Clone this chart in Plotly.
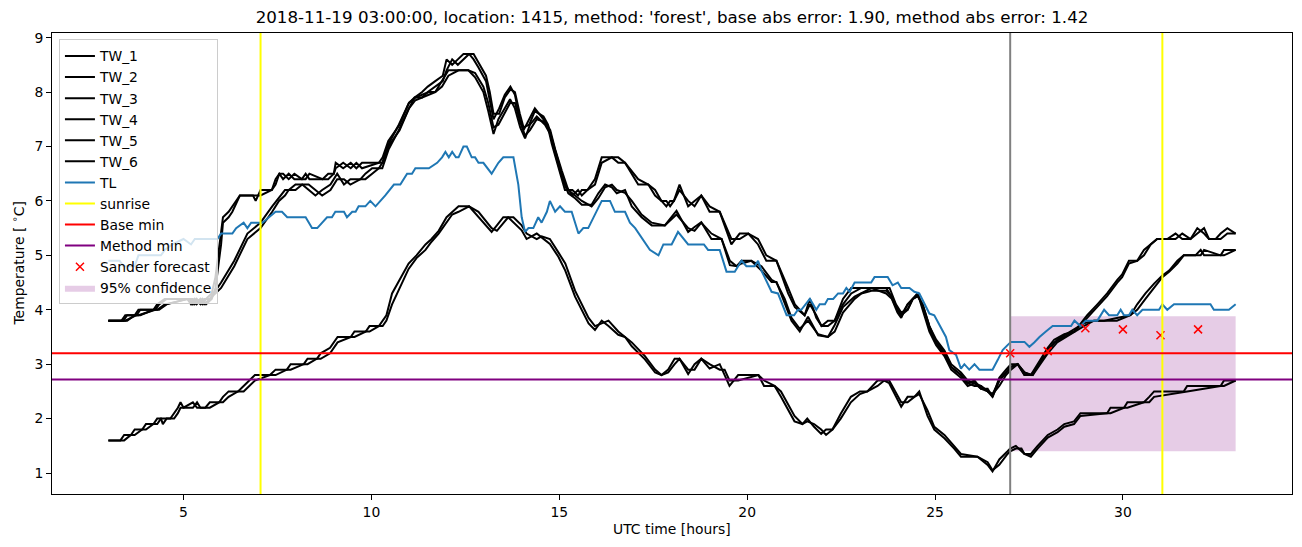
import plotly.graph_objects as go

FONT = "DejaVu Sans"

# ---------------- data ----------------
tA = [3.0,3.35,3.45,3.75,3.85,4.2,4.3,4.5,5.15,5.25,
      5.35,5.5,5.6,5.75,5.85,6.0,6.05,6.2,6.3,6.5,
      6.85,6.92,7.05,7.35,7.45,7.55,7.65,7.8,7.95,8.15,
      8.25,8.35,8.7,8.85,9.0,9.05,9.25,9.45,9.6,9.75,
      10.2,10.3,10.45,10.75,11.0,11.15,11.35,11.5,11.7,11.9,
      12.0,12.15,12.3,12.45,12.6,12.72,12.85,13.05,13.15,13.25,
      13.4,13.55,13.7,13.82,13.95,14.05,14.2,14.35,14.58,14.7,
      14.8,15.0,15.15,15.35,15.5,15.6,15.75,15.95,16.13,16.4,
      16.57,16.75,17.1,17.37,17.55,17.72,17.85,17.95,18.05,18.2,
      18.43,18.6,18.78,19.0,19.27,19.58,19.8,20.03,20.29,20.51,
      20.78,21.09,21.27,21.53,21.67,21.84,21.98,22.15,22.33,22.55,
      22.77,23.04,23.3,23.7,23.79,23.96,24.1,24.27,24.41,24.54,
      24.67,24.85,25.03,25.25,25.43,25.69,25.87,26.05,26.22,26.4,
      26.53,26.71,26.89,27.02,27.2,27.38,27.55,27.73,28.0,28.17,
      28.44,28.71,29.05,29.32,29.58,29.85,29.98,30.16,30.38,30.56,
      30.74,30.91,31.18,31.4,31.58,31.8,31.98,32.16,32.29,32.47,
      32.6,32.78,33.0]
TW_1 = [3.8,3.8,3.9,3.9,4.0,4.0,4.1,4.2,4.2,4.1,
        4.2,4.1,4.2,4.3,4.6,5.5,5.7,5.8,5.9,6.1,
        6.1,6.0,6.2,6.2,6.4,6.5,6.4,6.5,6.4,6.4,
        6.5,6.4,6.4,6.5,6.5,6.7,6.6,6.7,6.6,6.7,
        6.7,6.8,7.1,7.4,7.8,7.9,8.0,8.1,8.2,8.3,
        8.6,8.5,8.6,8.7,8.7,8.6,8.45,8.2,7.85,7.5,
        7.7,7.95,8.1,7.95,7.5,7.3,7.5,7.7,7.5,7.35,
        7.05,6.55,6.2,6.2,6.1,6.2,6.2,6.4,6.8,6.8,
        6.7,6.7,6.3,6.3,6.1,6.0,5.9,6.0,6.0,6.3,
        5.9,6.0,6.1,5.8,5.8,5.2,5.4,5.4,5.2,4.9,
        4.9,4.3,4.05,3.9,4.2,3.85,3.7,3.8,3.8,4.2,
        4.4,4.4,4.4,4.4,4.3,4.05,3.9,4.1,4.2,4.3,
        4.05,3.65,3.4,3.2,2.95,2.8,2.65,2.7,2.55,2.55,
        2.4,2.75,2.9,3.0,3.0,2.8,2.8,3.0,3.3,3.45,
        3.55,3.6,3.9,4.1,4.3,4.55,4.65,4.9,4.9,5.1,
        5.2,5.3,5.3,5.4,5.3,5.3,5.5,5.4,5.3,5.3,
        5.4,5.5,5.4]
TW_2 = [3.8,3.8,3.8,3.9,3.9,4.0,4.0,4.1,4.2,4.2,
        4.1,4.2,4.1,4.2,4.4,5.2,5.6,5.7,5.8,6.1,
        6.1,6.1,6.1,6.2,6.3,6.5,6.5,6.4,6.5,6.4,
        6.4,6.5,6.4,6.4,6.5,6.6,6.7,6.6,6.7,6.6,
        6.7,6.7,7.0,7.3,7.7,7.9,7.9,8.0,8.1,8.2,
        8.4,8.6,8.5,8.6,8.7,8.7,8.55,8.3,8.0,7.6,
        7.6,7.9,8.05,8.0,7.6,7.35,7.4,7.65,7.55,7.4,
        7.15,6.65,6.3,6.1,6.2,6.1,6.2,6.3,6.7,6.8,
        6.8,6.7,6.4,6.3,6.2,6.0,6.0,5.9,6.0,6.2,
        6.0,5.9,6.1,5.9,5.8,5.3,5.3,5.4,5.3,5.0,
        4.9,4.4,4.1,3.9,4.1,3.9,3.7,3.7,3.8,4.1,
        4.3,4.4,4.4,4.4,4.4,4.1,3.95,4.0,4.2,4.25,
        4.1,3.7,3.45,3.25,3.0,2.85,2.7,2.65,2.6,2.5,
        2.45,2.7,2.85,2.95,3.0,2.85,2.8,2.95,3.25,3.4,
        3.5,3.6,3.85,4.05,4.25,4.5,4.6,4.85,4.9,5.0,
        5.2,5.3,5.3,5.3,5.4,5.3,5.4,5.5,5.3,5.3,
        5.3,5.4,5.4]

tB = [3.0,3.4,3.5,3.7,3.8,4.25,4.35,4.55,5.1,5.2,
      5.3,5.45,5.55,5.7,6.0,6.35,6.7,7.05,7.36,7.54,
      7.7,7.8,7.98,8.16,8.33,8.51,8.69,8.91,9.09,9.27,
      9.44,9.71,9.84,10.02,10.2,10.29,10.46,10.73,11.0,11.17,
      11.35,11.53,11.7,11.88,12.05,12.32,12.58,12.76,12.98,13.11,
      13.25,13.38,13.56,13.69,13.82,13.96,14.09,14.22,14.4,14.62,
      14.76,14.89,15.07,15.24,15.42,15.6,15.86,16.04,16.22,16.4,
      16.53,16.75,16.93,17.19,17.46,17.81,18.12,18.43,18.6,18.78,
      19.05,19.32,19.54,19.72,19.85,20.11,20.38,20.65,20.78,21.0,
      21.18,21.4,21.62,21.89,22.15,22.33,22.55,22.86,23.04,23.31,
      23.7,23.85,24.0,24.1,24.27,24.41,24.54,24.67,24.85,25.03,
      25.25,25.43,25.69,25.87,26.05,26.22,26.4,26.53,26.71,26.89,
      27.02,27.2,27.38,27.6,27.75,28.0,28.25,28.6,28.96,29.23,
      29.5,29.84,30.2,30.38,30.6,30.83,31.05,31.23,31.45,31.62,
      31.93,32.07,32.16,32.6,32.69,33.0]
TW_3 = [3.8,3.8,3.9,3.9,4.0,4.0,4.1,4.2,4.2,4.1,
        4.2,4.1,4.2,4.2,4.5,4.9,5.4,5.6,5.9,6.05,
        6.2,6.2,6.3,6.3,6.2,6.1,6.2,6.3,6.5,6.3,
        6.4,6.4,6.5,6.6,6.6,6.7,7.05,7.4,7.8,7.9,
        7.95,8.0,8.0,8.2,8.4,8.4,8.4,8.27,8.0,7.65,
        7.23,7.5,7.7,7.87,7.7,7.35,7.15,7.4,7.55,7.4,
        7.23,6.87,6.44,6.14,6.05,5.93,5.93,6.14,6.3,6.25,
        6.14,6.2,5.9,5.7,5.55,5.55,5.82,5.43,5.52,5.61,
        5.3,5.3,4.82,4.8,4.9,4.9,4.72,4.51,4.51,4.1,
        3.8,3.6,3.87,3.53,3.5,3.72,4.05,4.24,4.3,4.4,
        4.3,4.2,3.95,3.85,4.1,4.2,4.3,4.0,3.6,3.35,
        3.15,2.9,2.75,2.6,2.65,2.55,2.5,2.4,2.7,2.85,
        2.95,3.0,2.8,2.8,3.0,3.25,3.45,3.6,3.75,3.8,
        3.8,3.85,3.9,4.1,4.3,4.48,4.63,4.72,4.9,5.0,
        5.0,5.1,5.0,5.0,5.1,5.1]
TW_4 = [3.8,3.8,3.8,3.9,3.9,4.0,4.0,4.1,4.2,4.2,
        4.1,4.2,4.1,4.2,4.4,4.8,5.3,5.5,5.8,6.0,
        6.1,6.2,6.2,6.3,6.3,6.2,6.1,6.2,6.4,6.4,
        6.3,6.4,6.4,6.5,6.6,6.6,6.95,7.3,7.7,7.85,
        7.9,7.95,8.0,8.1,8.3,8.4,8.4,8.35,8.1,7.8,
        7.35,7.4,7.65,7.8,7.8,7.45,7.2,7.3,7.5,7.45,
        7.3,6.95,6.55,6.2,6.1,6.0,5.9,6.05,6.25,6.3,
        6.2,6.15,6.0,5.75,5.6,5.55,5.75,5.5,5.45,5.6,
        5.4,5.3,4.9,4.8,4.85,4.9,4.8,4.55,4.5,4.2,
        3.85,3.65,3.8,3.55,3.5,3.6,3.95,4.2,4.3,4.35,
        4.35,4.25,4.0,3.9,4.0,4.2,4.25,4.1,3.7,3.4,
        3.2,2.95,2.8,2.65,2.6,2.6,2.5,2.45,2.6,2.8,
        2.9,3.0,2.85,2.8,2.95,3.2,3.4,3.55,3.7,3.8,
        3.8,3.8,3.9,4.0,4.2,4.4,4.6,4.7,4.85,5.0,
        5.0,5.0,5.1,5.0,5.0,5.1]

tC = [3.0,3.32,3.42,3.6,3.7,3.9,4.0,4.2,4.3,4.4,
      4.45,4.55,4.65,4.75,4.85,4.92,5.0,5.25,5.36,5.45,
      5.58,5.7,5.95,6.05,6.2,6.45,6.6,6.75,6.9,7.3,
      7.45,7.75,7.85,8.2,8.3,8.55,8.65,8.9,9.0,9.1,
      9.45,9.55,9.85,9.95,10.2,10.3,10.4,10.55,10.99,11.2,
      11.44,11.6,11.79,12.0,12.15,12.32,12.6,12.85,13.02,13.2,
      13.34,13.51,13.64,13.78,14.0,14.13,14.4,14.53,14.75,14.98,
      15.16,15.42,15.6,15.78,15.95,16.13,16.31,16.57,16.75,16.93,
      17.28,17.55,17.72,17.9,18.07,18.2,18.43,18.6,18.78,19.0,
      19.27,19.4,19.53,19.76,20.3,20.45,20.73,20.9,21.26,21.47,
      21.6,21.78,21.97,22.1,22.27,22.49,22.76,23.0,23.2,23.47,
      23.65,23.78,24.1,24.27,24.45,24.58,24.8,24.98,25.25,25.51,
      25.69,26.13,26.4,26.53,26.71,26.93,27.0,27.15,27.3,27.38,
      27.55,27.73,28.0,28.26,28.44,28.7,28.87,29.58,29.67,30.03,
      30.12,30.56,30.7,30.83,31.62,31.71,32.6,32.69,33.0]
TW_5 = [1.6,1.6,1.7,1.7,1.8,1.8,1.9,1.9,2.0,2.0,
        1.9,2.0,2.0,2.1,2.2,2.3,2.2,2.2,2.3,2.2,
        2.2,2.3,2.3,2.4,2.5,2.5,2.6,2.7,2.8,2.8,
        2.9,2.9,3.0,3.0,3.1,3.1,3.2,3.3,3.4,3.5,
        3.5,3.6,3.6,3.7,3.7,3.8,3.9,4.3,4.85,5.0,
        5.2,5.3,5.45,5.7,5.8,5.9,5.9,5.7,5.58,5.43,
        5.55,5.7,5.7,5.61,5.46,5.3,5.4,5.33,5.21,4.97,
        4.72,4.24,4.0,3.75,3.63,3.8,3.7,3.54,3.5,3.33,
        3.09,2.85,2.8,2.9,3.1,3.1,2.82,3.0,3.1,2.92,
        3.0,2.8,2.6,2.8,2.8,2.6,2.6,2.4,1.95,1.9,
        2.0,1.85,1.72,1.8,1.8,2.09,2.4,2.5,2.5,2.7,
        2.7,2.65,2.22,2.4,2.4,2.5,2.05,1.8,1.64,1.45,
        1.3,1.3,1.15,1.03,1.25,1.4,1.45,1.5,1.4,1.35,
        1.35,1.5,1.7,1.8,1.9,1.95,2.1,2.1,2.2,2.2,
        2.3,2.3,2.4,2.5,2.5,2.6,2.6,2.7,2.7]
TW_6 = [1.6,1.6,1.6,1.7,1.7,1.8,1.8,1.9,1.9,2.0,
        2.0,2.0,2.0,2.0,2.1,2.2,2.2,2.3,2.2,2.2,
        2.2,2.2,2.3,2.3,2.4,2.5,2.5,2.6,2.7,2.8,
        2.8,2.9,2.9,3.0,3.0,3.1,3.1,3.2,3.3,3.4,
        3.5,3.5,3.6,3.6,3.7,3.7,3.8,4.1,4.75,4.95,
        5.1,5.25,5.4,5.6,5.75,5.8,5.9,5.8,5.65,5.5,
        5.45,5.6,5.7,5.7,5.55,5.4,5.3,5.35,5.3,5.05,
        4.85,4.35,4.1,3.85,3.7,3.75,3.8,3.6,3.5,3.4,
        3.15,2.9,2.8,2.85,3.0,3.1,2.9,2.9,3.1,3.0,
        2.9,2.9,2.7,2.7,2.8,2.7,2.6,2.5,2.05,1.9,
        1.95,1.9,1.8,1.7,1.8,2.0,2.3,2.45,2.5,2.6,
        2.7,2.7,2.3,2.3,2.4,2.45,2.15,1.85,1.7,1.5,
        1.35,1.3,1.2,1.05,1.15,1.35,1.4,1.45,1.45,1.35,
        1.3,1.45,1.65,1.75,1.85,1.9,2.05,2.1,2.1,2.2,
        2.2,2.3,2.3,2.4,2.5,2.5,2.6,2.6,2.7]

tTL = [3.0,3.3,3.4,3.7,3.8,4.4,4.5,4.7,5.0,5.2,
       5.3,5.9,6.0,6.3,6.4,6.6,6.7,6.8,7.1,7.27,
       7.45,7.62,7.76,8.25,8.42,8.56,8.69,8.82,8.95,9.04,
       9.27,9.35,9.49,9.58,9.66,9.84,9.97,10.11,10.24,10.37,
       10.6,10.77,10.95,11.08,11.17,11.53,11.75,11.88,11.97,12.06,
       12.15,12.25,12.32,12.45,12.54,12.67,12.76,12.85,12.98,13.2,
       13.38,13.51,13.78,13.91,14.0,14.09,14.18,14.31,14.44,14.53,
       14.67,14.75,14.89,15.02,15.15,15.33,15.51,15.64,15.77,16.13,
       16.35,16.48,16.75,16.88,17.02,17.19,17.41,17.64,17.77,17.99,
       18.16,18.43,18.85,18.96,19.27,19.45,19.67,19.85,19.98,20.2,
       20.29,20.38,20.65,20.82,21.05,21.25,21.35,21.44,21.67,21.84,
       21.93,22.07,22.15,22.29,22.42,22.55,22.64,22.73,22.86,23.3,
       23.39,23.74,23.87,24.01,24.1,24.32,24.45,24.58,24.72,24.85,
       24.98,25.12,25.2,25.29,25.38,25.56,25.69,25.78,25.91,26.05,
       26.18,26.53,26.67,26.8,26.93,27.02,27.38,27.51,27.64,27.78,
       27.95,28.13,28.62,28.71,28.87,29.01,29.32,29.5,29.63,29.85,
       29.94,30.03,30.16,30.25,30.38,30.52,30.96,31.05,31.18,31.36,
       32.33,32.42,32.82,33.0]
TL = [4.9,4.9,4.8,4.8,5.0,5.0,5.1,5.2,5.3,5.2,
      5.3,5.3,5.4,5.4,5.5,5.6,5.5,5.6,5.6,5.7,
      5.8,5.8,5.7,5.7,5.5,5.5,5.6,5.7,5.7,5.8,
      5.8,5.7,5.8,5.8,5.9,5.9,6.0,5.9,6.0,6.1,
      6.3,6.3,6.5,6.5,6.6,6.6,6.7,6.8,6.9,6.8,
      6.9,6.8,6.8,7.0,7.0,6.8,6.8,6.7,6.7,6.5,
      6.7,6.8,6.8,6.3,5.7,5.43,5.5,5.5,5.7,5.6,
      5.8,6.0,5.8,5.9,5.8,5.8,5.4,5.5,5.5,6.0,
      6.0,5.8,5.8,5.6,5.5,5.33,5.1,5.0,5.2,5.2,
      5.43,5.2,5.2,5.1,5.1,4.7,4.7,4.9,4.8,4.8,
      4.9,4.72,4.33,4.3,3.9,3.9,4.0,4.0,4.2,4.0,
      4.1,4.1,4.2,4.2,4.3,4.3,4.4,4.33,4.5,4.5,
      4.6,4.6,4.45,4.5,4.4,4.4,4.33,4.3,4.1,3.93,
      3.9,3.72,3.63,3.5,3.26,3.17,2.92,3.0,2.9,3.0,
      2.9,2.9,3.08,3.26,3.35,3.41,3.41,3.32,3.4,3.5,
      3.6,3.7,3.7,3.8,3.7,3.8,3.8,4.0,3.9,3.9,
      4.0,3.9,3.9,4.0,3.9,4.0,4.0,4.1,4.0,4.1,
      4.1,4.0,4.0,4.1]

sander_t = [27, 28, 29, 30, 31, 32]
sander_v = [3.2, 3.24, 3.66, 3.64, 3.53, 3.64]
conf_t = [27, 33]
conf_low = [1.4, 1.4]
conf_high = [3.88, 3.88]
sunrise_times = [7.05, 31.05]
forecast_start = 27.0
base_min = 3.2
method_min = 2.72

TITLE = ("2018-11-19 03:00:00, location: 1415, method: 'forest', "
         "base abs error: 1.90, method abs error: 1.42")

LW = 2.0

# ---------------- figure ----------------
fig = go.Figure()

# confidence band (drawn first, beneath everything)
fig.add_trace(go.Scatter(x=conf_t, y=conf_low, mode="lines",
                         line=dict(width=0, color="rgba(0,0,0,0)"),
                         showlegend=False, hoverinfo="skip"))
fig.add_trace(go.Scatter(x=conf_t, y=conf_high, mode="lines",
                         line=dict(width=0, color="rgba(0,0,0,0)"),
                         fill="tonexty", fillcolor="rgba(128,0,128,0.2)",
                         name="95% confidence", legendrank=12))

tw_series = [("TW_1", tA, TW_1), ("TW_2", tA, TW_2), ("TW_3", tB, TW_3),
             ("TW_4", tB, TW_4), ("TW_5", tC, TW_5), ("TW_6", tC, TW_6)]
for i, (nm, tt, vv) in enumerate(tw_series):
    fig.add_trace(go.Scatter(x=tt, y=vv, mode="lines", name=nm,
                             line=dict(color="black", width=LW),
                             legendrank=i + 1))

fig.add_trace(go.Scatter(x=tTL, y=TL, mode="lines", name="TL",
                         line=dict(color="#1f77b4", width=LW), legendrank=7))

# Sander forecast markers
fig.add_trace(go.Scatter(x=sander_t, y=sander_v, mode="markers",
                         name="Sander forecast", legendrank=11,
                         marker=dict(symbol="x-thin", size=8, color="red",
                                     line=dict(width=1.5, color="red"))))

# legend entries for reference lines
for nm, col, rk in [("sunrise", "yellow", 8), ("Base min", "red", 9),
                    ("Method min", "purple", 10)]:
    fig.add_trace(go.Scatter(x=[None], y=[None], mode="lines", name=nm,
                             line=dict(color=col, width=LW), legendrank=rk))

shapes = []
for st in sunrise_times:
    shapes.append(dict(type="line", xref="x", yref="paper", x0=st, x1=st,
                       y0=0, y1=1, line=dict(color="yellow", width=LW)))
shapes.append(dict(type="line", xref="x", yref="paper", x0=forecast_start,
                   x1=forecast_start, y0=0, y1=1,
                   line=dict(color="gray", width=LW)))
shapes.append(dict(type="line", xref="paper", yref="y", x0=0, x1=1,
                   y0=base_min, y1=base_min, line=dict(color="red", width=LW)))
shapes.append(dict(type="line", xref="paper", yref="y", x0=0, x1=1,
                   y0=method_min, y1=method_min,
                   line=dict(color="purple", width=LW)))

axis_common = dict(showgrid=False, zeroline=False, showline=True, mirror=True,
                   linecolor="black", linewidth=1, ticks="outside", ticklen=5,
                   tickwidth=1, tickcolor="black",
                   tickfont=dict(family=FONT, size=13.9, color="black"))

fig.update_layout(
    width=1302, height=547,
    margin=dict(l=52, r=10, t=33, b=53),
    paper_bgcolor="white", plot_bgcolor="white",
    font=dict(family=FONT, size=13.9, color="black"),
    title=dict(text=TITLE, x=0.5, xref="paper", xanchor="center",
               y=1 - 17 / 547, yref="container", yanchor="middle",
               font=dict(family=FONT, size=16.7, color="black")),
    xaxis=dict(range=[1.5, 34.5], tickvals=[5, 10, 15, 20, 25, 30],
               **axis_common),
    yaxis=dict(range=[0.615, 9.085], tickvals=list(range(1, 10)),
               **axis_common),
    shapes=shapes,
    showlegend=True,
    legend=dict(x=0.0056, y=0.986, xanchor="left", yanchor="top",
                bgcolor="rgba(255,255,255,0.8)", bordercolor="#cccccc",
                borderwidth=1, font=dict(family=FONT, size=13.9, color="black"),
                traceorder="normal"),
    annotations=[
        dict(text="UTC time [hours]", xref="paper", yref="paper", x=0.5,
             y=-35 / 461.5, xanchor="center", yanchor="middle",
             showarrow=False, font=dict(family=FONT, size=13.9, color="black")),
        dict(text="Temperature [ <sup>∘</sup>C]", xref="paper", yref="paper",
             x=-34 / 1240, y=0.5, xanchor="center", yanchor="middle",
             textangle=-90, showarrow=False,
             font=dict(family=FONT, size=13.9, color="black")),
    ],
)

fig.write_html("out.html")
